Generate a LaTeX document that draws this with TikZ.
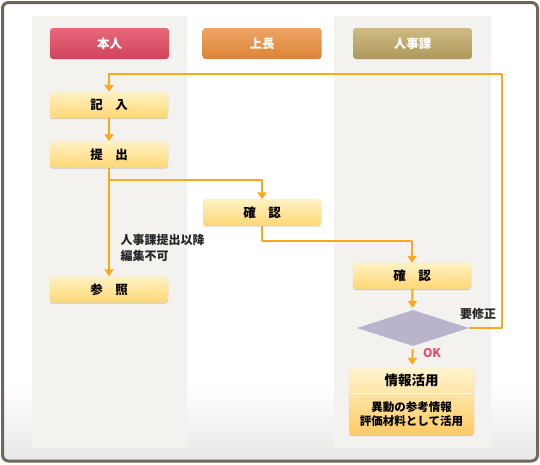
\documentclass[tikz,border=0pt]{standalone}
\usepackage{fontspec}
\setmainfont{Noto Sans CJK JP}
\usetikzlibrary{arrows.meta,calc,shapes.geometric,shadows}
\definecolor{marco}{HTML}{6E675C}
\definecolor{carril}{HTML}{F3F2EE}
\definecolor{rojoA}{HTML}{E8687A}
\definecolor{rojoB}{HTML}{D0435A}
\definecolor{naranjaA}{HTML}{EDA466}
\definecolor{naranjaB}{HTML}{DC8436}
\definecolor{ocreA}{HTML}{CDBB82}
\definecolor{ocreB}{HTML}{AE985C}
\definecolor{crema}{HTML}{FFF2C4}
\definecolor{amarillo}{HTML}{FFD774}
\definecolor{borde}{HTML}{F4E2B0}
\definecolor{flecha}{HTML}{F9A91E}
\definecolor{lila}{HTML}{B9B3CB}
\definecolor{rosa}{HTML}{E0506A}

\begin{document}
\begin{tikzpicture}[x=1pt, y=-1pt, line join=round,
  >={Triangle[width=9pt,length=7pt]},
  cabecera/.style={rounded corners=3pt, minimum width=119pt, minimum height=31pt,
    text=white, font=\fontsize{12.5}{14}\selectfont\bfseries},
  caja/.style={rounded corners=3pt, draw=borde, top color=crema, bottom color=amarillo,
    minimum width=118pt, minimum height=26pt, inner sep=0pt,
    drop shadow={shadow xshift=0pt, shadow yshift=-1.2pt, opacity=.18, fill=black},
    font=\fontsize{12.5}{14}\selectfont\bfseries},
  flujo/.style={draw=flecha, line width=2pt},
  nota/.style={font=\fontsize{12}{16}\selectfont\bfseries, text=black!85}]
  \useasboundingbox (0,0) rectangle (540,464);

  % Marco
  \fill[white] (0,0) rectangle (540,464);
  \shade[top color=white, bottom color=black!9] (4,385) rectangle (536,459);
  \draw[marco, line width=3pt, rounded corners=6pt] (2.5,2.5) rectangle (537.5,461);

  % Carriles
  \fill[carril] (32,16) rectangle (187,447);
  \fill[carril] (334,16) rectangle (491,447);

  % Cabeceras
  \node[cabecera, top color=rojoA, bottom color=rojoB] (honnin) at (109.5,43.5) {本人};
  \node[cabecera, top color=naranjaA, bottom color=naranjaB] (jocho) at (262,43.5) {上長};
  \node[cabecera, top color=ocreA, bottom color=ocreB] (jinji) at (412.5,43.5) {人事課};

  % Pasos
  \node[caja] (kinyu) at (109,105) {記　入};
  \node[caja] (teishutsu) at (109,154.5) {提　出};
  \node[caja] (sansho) at (109,289.5) {参　照};
  \node[caja] (kakuninA) at (262,212.5) {確　認};
  \node[caja] (kakuninB) at (412,276) {確　認};
  \node[diamond, fill=lila, minimum width=112pt, minimum height=36pt, aspect=3.1,
    inner sep=0pt] (hantei) at (413,328) {};

  % Resultado
  \node[caja, minimum width=125pt, minimum height=67pt, top color=crema!80!white,
    bottom color=amarillo!85!orange] (katsuyo) at (411.5,401.5) {};
  \draw[white, line width=1pt, opacity=.8] ($(katsuyo.north west)+(1,26)$) -- ($(katsuyo.north east)+(-1,26)$);
  \node[font=\fontsize{13.5}{15}\selectfont\bfseries] (katsuyoT) at ($(katsuyo.north)+(0,13)$) {情報活用};
  \node[align=center, font=\fontsize{11.5}{13.5}\selectfont\bfseries] (katsuyoC) at ($(katsuyo.north)+(0,46.5)$)
    {異動の参考情報\\評価材料として活用};

  % Flechas
  \coordinate (ramal) at (109,180);
  \coordinate (giro) at (262,241);
  \coordinate (esqA) at (502,328);
  \coordinate (esqB) at (502,74);
  \draw[flujo, ->] (kinyu) -- (teishutsu);
  \draw[flujo, ->] (teishutsu) -- (sansho);
  \draw[flujo, ->] (ramal) -| (kakuninA);
  \draw[flujo, ->] (kakuninA) -- (giro) -| (kakuninB);
  \draw[flujo, ->, shorten >=2pt] (kakuninB) -- (hantei);
  \draw[flujo, ->, shorten <=3pt, shorten >=3pt] (hantei) -- (katsuyo);
  \draw[flujo, ->] (hantei.east) -- (esqA) -- (esqB) -| (kinyu);

  % Textos
  \node[nota, align=left, anchor=north west] (aviso) at (117,231) {人事課提出以降\\編集不可};
  \node[nota] (yoshusei) at (478,314) {要修正};
  \node[font=\fontsize{12}{14}\selectfont\bfseries, text=rosa] (ok) at (432,353) {OK};
\end{tikzpicture}
\end{document}
